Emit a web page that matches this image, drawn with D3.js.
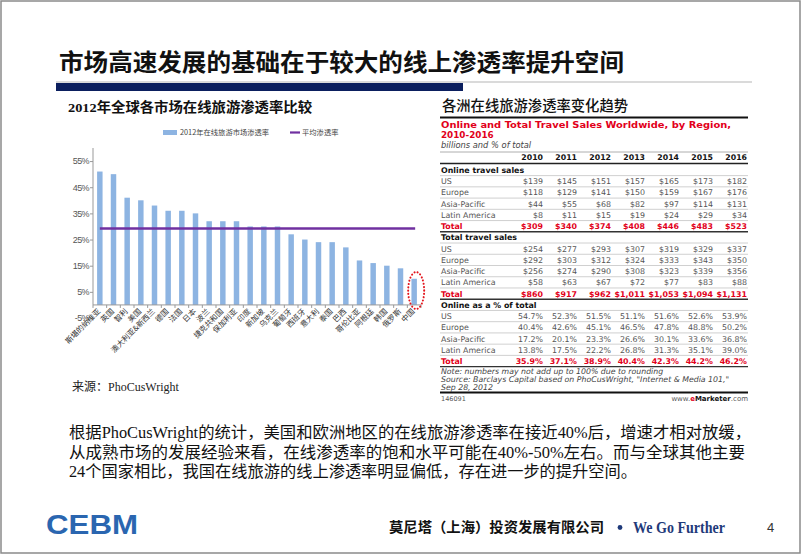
<!DOCTYPE html>
<html><head><meta charset="utf-8">
<script src="https://cdn.jsdelivr.net/npm/d3@7"></script>
<style>
body{margin:0;background:#fff;}
svg{display:block;}
</style></head>
<body>
<svg id="c" width="802" height="555"></svg>
<script>
// ---------- Data ----------
const countries = ["斯堪的纳维亚","英国","智利","美国","澳大利亚&新西兰","德国","法国","日本","波兰","捷克共和国","保加利亚","印度","新加坡","乌克兰","葡萄牙","西班牙","意大利","泰国","巴西","哥伦比亚","阿根廷","韩国","俄罗斯","中国"];
const penetration = [51,50,41,40,38,36,36,35,32,32,32,30,30,30,27,25,24,24,22,17,16,15,14,10];
const averageRate = 29.2;
const yTicks = [-5,5,15,25,35,45,55];
const legendLabels = ["2012年在线旅游市场渗透率","平均渗透率"];

const years = [2010,2011,2012,2013,2014,2015,2016];
const regions = ["US","Europe","Asia-Pacific","Latin America"];
const onlineUS = [139,145,151,157,165,173,182];
const onlineEurope = [118,129,141,150,159,167,176];
const onlineAsiaPacific = [44,55,68,82,97,114,131];
const onlineLatinAmerica = [8,11,15,19,24,29,34];
const onlineTotal = [309,340,374,408,446,483,523];
const totalUS = [254,277,293,307,319,329,337];
const totalEurope = [292,303,312,324,333,343,350];
const totalAsiaPacific = [256,274,290,308,323,339,356];
const totalLatinAmerica = [58,63,67,72,77,83,88];
const totalTotal = [860,917,962,1011,1053,1094,1131];
const shareUS = [54.7,52.3,51.5,51.1,51.6,52.6,53.9];
const shareEurope = [40.4,42.6,45.1,46.5,47.8,48.8,50.2];
const shareAsiaPacific = [17.2,20.1,23.3,26.6,30.1,33.6,36.8];
const shareLatinAmerica = [13.8,17.5,22.2,26.8,31.3,35.1,39.0];
const shareTotal = [35.9,37.1,38.9,40.4,42.3,44.2,46.2];

const titleText = "市场高速发展的基础在于较大的线上渗透率提升空间";
const paragraph = [
  "根据PhoCusWright的统计，美国和欧洲地区的在线旅游渗透率在接近40%后，增速才相对放缓，",
  "从成熟市场的发展经验来看，在线渗透率的饱和水平可能在40%-50%左右。而与全球其他主要",
  "24个国家相比，我国在线旅游的线上渗透率明显偏低，存在进一步的提升空间。"
];

// ---------- Drawing ----------
const svg = d3.select("#c");
const CJK = "'Noto Sans CJK SC', sans-serif";
const SERIF = "'Liberation Serif', 'Noto Sans CJK SC', serif";
const TBL = "'DejaVu Sans', sans-serif";

// slide frame
svg.append("rect").attr("x",1).attr("y",1).attr("width",799).attr("height",552)
  .attr("fill","none").attr("stroke","#8a8a8a").attr("stroke-width",1.5);

// title
svg.append("text").attr("x",59).attr("y",71).text(titleText)
  .attr("font-family",CJK).attr("font-weight",700).attr("font-size",23.5)
  .attr("textLength",565).attr("lengthAdjust","spacingAndGlyphs").attr("fill","#111");
svg.append("line").attr("x1",56).attr("x2",752).attr("y1",82).attr("y2",82)
  .attr("stroke","#b5b5b5").attr("stroke-width",1);
svg.append("rect").attr("x",56).attr("y",83).attr("width",407).attr("height",8).attr("fill","#0b1f5e");

// ---------- left chart ----------
svg.append("text").attr("x",68).attr("y",112).text("2012年全球各市场在线旅游渗透率比较")
  .attr("font-family",SERIF).attr("font-weight",700).attr("font-size",13.5)
  .attr("textLength",244).attr("lengthAdjust","spacingAndGlyphs").attr("fill","#111");

// legend
svg.append("rect").attr("x",163).attr("y",130).attr("width",14).attr("height",5).attr("fill","#8db4e2");
svg.append("text").attr("x",180).attr("y",135).text(legendLabels[0])
  .attr("font-family",CJK).attr("font-size",7.3).attr("fill","#444");
svg.append("line").attr("x1",290).attr("x2",300).attr("y1",132.5).attr("y2",132.5)
  .attr("stroke","#7030a0").attr("stroke-width",2.2);
svg.append("text").attr("x",302).attr("y",135).text(legendLabels[1])
  .attr("font-family",CJK).attr("font-size",7.3).attr("fill","#444");

const y = d3.scaleLinear().domain([-5,60]).range([318,148]);
const x = d3.scaleBand().domain(countries).range([93,421]).paddingInner(0.6).paddingOuter(0.3);

// y axis
const yAxis = svg.append("g").attr("transform","translate(93,0)")
  .call(d3.axisLeft(y).tickValues(yTicks).tickSize(3).tickFormat(d=>d+"%"));
yAxis.select(".domain").remove();
yAxis.selectAll(".tick line").attr("stroke","#999");
yAxis.selectAll(".tick text").attr("font-family","'Liberation Sans', sans-serif")
  .attr("font-size",9).attr("fill","#555").attr("letter-spacing",-0.6).attr("x",-4);
svg.append("line").attr("x1",93).attr("x2",93).attr("y1",y(60)).attr("y2",y(0))
  .attr("stroke","#999").attr("stroke-width",1);

// bars
svg.append("g").selectAll("rect").data(penetration).join("rect")
  .attr("x",(d,i)=>x(countries[i])).attr("width",x.bandwidth())
  .attr("y",d=>y(d)).attr("height",d=>y(0)-y(d)).attr("fill","#8db4e2");

// x axis line & ticks
svg.append("line").attr("x1",93).attr("x2",421).attr("y1",y(0)).attr("y2",y(0))
  .attr("stroke","#999").attr("stroke-width",1);
svg.append("g").selectAll("line").data(d3.range(countries.length+1)).join("line")
  .attr("x1",i=>93+i*x.step()).attr("x2",i=>93+i*x.step())
  .attr("y1",y(0)).attr("y2",y(0)+3).attr("stroke","#999");

// x labels
svg.append("g").selectAll("text").data(countries).join("text")
  .attr("transform",d=>`translate(${x(d)+x.bandwidth()/2+1},${y(0)+7}) rotate(-45)`)
  .attr("text-anchor","end").attr("font-family",CJK).attr("font-size",7.6)
  .attr("fill","#333").text(d=>d);

// average line
svg.append("line")
  .attr("x1",x(countries[0])+x.bandwidth()/2).attr("x2",x(countries[countries.length-1])+x.bandwidth()/2+1)
  .attr("y1",y(averageRate)).attr("y2",y(averageRate))
  .attr("stroke","#7030a0").attr("stroke-width",2.6);

// red dotted ellipse around China
const cn = countries[countries.length-1];
svg.append("ellipse").attr("cx",x(cn)+x.bandwidth()/2+2).attr("cy",y(5.5))
  .attr("rx",8).attr("ry",18.5).attr("fill","none").attr("stroke","#e3141c")
  .attr("stroke-width",2).attr("stroke-dasharray","0.1,3.2").attr("stroke-linecap","round");

// source
svg.append("text").attr("x",72).attr("y",391).text("来源：PhoCusWright")
  .attr("font-family",SERIF).attr("font-size",12).attr("fill","#222");

// ---------- right table ----------
svg.append("text").attr("x",442).attr("y",111).text("各洲在线旅游渗透率变化趋势")
  .attr("font-family",CJK).attr("font-weight",500).attr("font-size",14.3)
  .attr("textLength",186).attr("lengthAdjust","spacingAndGlyphs").attr("fill","#111");
svg.append("line").attr("x1",440).attr("x2",748).attr("y1",117.5).attr("y2",117.5)
  .attr("stroke","#111").attr("stroke-width",2);
const red = "#e2001a";
svg.append("text").attr("x",441).attr("y",127.5).text("Online and Total Travel Sales Worldwide, by Region,")
  .attr("font-family",TBL).attr("font-weight",700).attr("font-size",8.8).attr("fill",red)
  .attr("textLength",290).attr("lengthAdjust","spacingAndGlyphs");
svg.append("text").attr("x",441).attr("y",137.5).text("2010-2016")
  .attr("font-family",TBL).attr("font-weight",700).attr("font-size",8.8).attr("fill",red);
svg.append("text").attr("x",441).attr("y",147.5).text("billions and % of total")
  .attr("font-family",TBL).attr("font-style","italic").attr("font-size",8.3).attr("fill","#444");
svg.append("line").attr("x1",440).attr("x2",748).attr("y1",152).attr("y2",152)
  .attr("stroke","#999").attr("stroke-width",0.8);

const col = d3.scalePoint().domain(years).range([543,747]);
svg.append("g").selectAll("text").data(years).join("text")
  .attr("x",d=>col(d)).attr("y",160).attr("text-anchor","end").text(d=>d)
  .attr("font-family",TBL).attr("font-weight",700).attr("font-size",7.8).attr("fill","#111");
svg.append("line").attr("x1",440).attr("x2",748).attr("y1",163.5).attr("y2",163.5)
  .attr("stroke","#222").attr("stroke-width",1.4);

const money = v=>"$"+d3.format(",")(v);
const pct = v=>v.toFixed(1)+"%";
const rows = [
  {type:"head",label:"Online travel sales"},
  {label:regions[0],vals:onlineUS,f:money},
  {label:regions[1],vals:onlineEurope,f:money},
  {label:regions[2],vals:onlineAsiaPacific,f:money},
  {label:regions[3],vals:onlineLatinAmerica,f:money},
  {type:"total",label:"Total",vals:onlineTotal,f:money},
  {type:"head",label:"Total travel sales"},
  {label:regions[0],vals:totalUS,f:money},
  {label:regions[1],vals:totalEurope,f:money},
  {label:regions[2],vals:totalAsiaPacific,f:money},
  {label:regions[3],vals:totalLatinAmerica,f:money},
  {type:"total",label:"Total",vals:totalTotal,f:money},
  {type:"head",label:"Online as a % of total"},
  {label:regions[0],vals:shareUS,f:pct},
  {label:regions[1],vals:shareEurope,f:pct},
  {label:regions[2],vals:shareAsiaPacific,f:pct},
  {label:regions[3],vals:shareLatinAmerica,f:pct},
  {type:"total",label:"Total",vals:shareTotal,f:pct}
];
const rowY = d3.scaleLinear().domain([0,rows.length-1]).range([170,361]);
const rh = rowY(1)-rowY(0);
rows.forEach((r,i)=>{
  const cy = rowY(i);
  const g = svg.append("g");
  const isT = r.type==="total", isH = r.type==="head";
  g.append("text").attr("x",441).attr("y",cy+3).text(r.label)
    .attr("font-family",TBL).attr("font-size",isH?7.9:7.9)
    .attr("font-weight",(isT||isH)?700:400)
    .attr("fill",isT?red:(isH?"#111":"#555"));
  if(r.vals){
    g.selectAll("text.v").data(r.vals).join("text").attr("class","v")
      .attr("x",(d,j)=>col(years[j])).attr("y",cy+3).attr("text-anchor","end")
      .text(d=>r.f(d)).attr("font-family",TBL).attr("font-size",7.9)
      .attr("font-weight",isT?700:400).attr("fill",isT?red:"#555");
  }
  if(i<rows.length-1 || true){
    g.append("line").attr("x1",440).attr("x2",748).attr("y1",cy+rh/2).attr("y2",cy+rh/2)
      .attr("stroke",isT?"#333":"#c4c4c4").attr("stroke-width",isT?1.4:0.8);
  }
});

const notes = ["Note: numbers may not add up to 100% due to rounding",
  "Source: Barclays Capital based on PhoCusWright, \"Internet & Media 101,\"",
  "Sep 28, 2012"];
svg.append("g").selectAll("text").data(notes).join("text")
  .attr("x",441).attr("y",(d,i)=>374+i*8).text(d=>d)
  .attr("font-family",TBL).attr("font-style","italic").attr("font-size",7.8).attr("fill","#444");
svg.append("line").attr("x1",440).attr("x2",748).attr("y1",392.5).attr("y2",392.5)
  .attr("stroke","#111").attr("stroke-width",2);
svg.append("text").attr("x",441).attr("y",401).text("146091")
  .attr("font-family",TBL).attr("font-size",6.5).attr("fill","#555");
const em = svg.append("text").attr("x",748).attr("y",401).attr("text-anchor","end")
  .attr("font-family",TBL).attr("font-size",7).attr("fill","#555");
em.append("tspan").text("www.");
em.append("tspan").text("e").attr("fill",red).attr("font-weight",700);
em.append("tspan").text("Marketer").attr("fill","#111").attr("font-weight",700);
em.append("tspan").text(".com");

// ---------- paragraph ----------
const pl = [682,676,568];
svg.append("g").selectAll("text").data(paragraph).join("text")
  .attr("x",69).attr("y",(d,i)=>438+i*19.5).text(d=>d)
  .attr("font-family",SERIF).attr("font-size",16).attr("fill","#111")
  .attr("textLength",(d,i)=>pl[i]).attr("lengthAdjust","spacingAndGlyphs");

// ---------- footer ----------
svg.append("text").attr("x",46).attr("y",534).text("CEBM")
  .attr("font-family","'Liberation Sans', sans-serif").attr("font-weight",700).attr("font-size",28)
  .attr("fill","#2a66b0").attr("textLength",92).attr("lengthAdjust","spacingAndGlyphs");
svg.append("text").attr("x",389).attr("y",532).text("莫尼塔（上海）投资发展有限公司")
  .attr("font-family",CJK).attr("font-weight",700).attr("font-size",14)
  .attr("textLength",215).attr("lengthAdjust","spacingAndGlyphs").attr("fill","#111");
svg.append("circle").attr("cx",620).attr("cy",527.5).attr("r",2.4).attr("fill","#1f3a7a");
svg.append("text").attr("x",633).attr("y",532.5).text("We Go Further")
  .attr("font-family","'Liberation Serif', serif").attr("font-weight",700).attr("font-size",16)
  .attr("textLength",92).attr("lengthAdjust","spacingAndGlyphs").attr("fill","#1f3a7a");
svg.append("text").attr("x",767).attr("y",532).text("4")
  .attr("font-family","'Liberation Sans', sans-serif").attr("font-size",13).attr("fill","#333");
</script>
</body></html>
